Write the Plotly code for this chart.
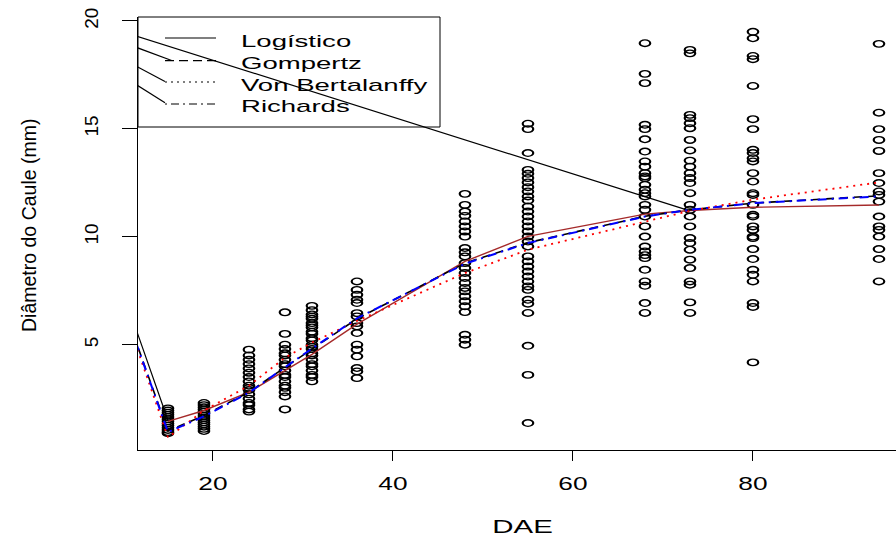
import plotly.graph_objects as go

# ---------------- data ----------------
dae_cols = [15, 19, 24, 28, 31, 36, 48, 55, 68, 73, 80, 94]

d15 = [2.05, 1.95, 1.85, 1.75, 1.65, 1.55, 1.45, 1.35, 1.25, 1.15, 1.05, 0.95, 0.9]
d19 = [2.3, 2.2, 2.1, 2.0, 1.9, 1.8, 1.7, 1.6, 1.5, 1.4, 1.3, 1.2, 1.1, 1.0]
d24 = [4.77, 4.5, 4.3, 4.1, 3.9, 3.7, 3.5, 3.3, 3.1, 3.0, 2.9, 2.7, 2.5, 2.3, 2.2, 2.0, 1.9]
d28 = [6.5, 5.5, 5.0, 4.8, 4.6, 4.5, 4.3, 4.1, 4.0, 3.8, 3.6, 3.5, 3.3, 3.1, 3.0, 2.8, 2.6, 2.0]
d31 = [6.8, 6.6, 6.4, 6.3, 6.2, 6.0, 5.9, 5.8, 5.6, 5.5, 5.3, 5.2, 5.0, 4.9, 4.8, 4.6,
       4.5, 4.3, 4.1, 4.0, 3.8, 3.6, 3.5, 3.3]
d36 = [7.93, 7.54, 7.31, 7.08, 6.93, 6.46, 6.31, 6.0, 5.85, 5.54, 5.0, 4.77, 4.46,
       3.92, 3.76, 3.45]
d48 = [11.99, 11.48, 11.17, 10.97, 10.71, 10.48, 10.25, 10.01, 9.48, 9.28, 9.09, 8.78,
       8.55, 8.32, 8.09, 7.86, 7.63, 7.47, 7.24, 7.01, 6.78, 6.51, 5.46, 5.23, 5.0]
d55 = [15.24, 14.99, 13.88, 13.1, 12.92, 12.72, 12.52, 12.3, 12.1, 11.87, 11.68, 11.4,
       11.17, 10.94, 10.71, 10.48, 10.25, 10.01, 9.78, 9.55, 9.09, 8.86, 8.62, 8.39,
       8.16, 7.93, 7.7, 7.54, 7.08, 6.9, 6.47, 4.95, 3.6, 1.37]
d68 = [18.97, 17.55, 17.12, 15.19, 14.99, 14.52, 13.95, 13.49, 13.25, 12.95, 12.8,
       12.72, 12.41, 12.18, 12.02, 11.87, 11.48, 11.25, 10.94, 10.48, 10.01, 9.55, 9.32,
       9.15, 9.01, 8.47, 7.93, 7.73, 6.93, 6.47]
d73 = [18.66, 18.5, 15.65, 15.5, 15.26, 15.03, 14.49, 14.0, 13.53, 13.25, 12.95, 12.72,
       12.49, 12.02, 11.48, 11.25, 10.94, 10.48, 9.94, 9.71, 9.4, 8.94, 8.55, 7.93,
       7.78, 6.96, 6.47]
d80 = [19.5, 19.2, 18.38, 18.23, 16.99, 15.45, 14.99, 14.03, 13.88, 13.64, 13.49, 12.95,
       12.56, 12.02, 11.94, 11.48, 11.02, 10.94, 10.48, 10.32, 10.01, 9.94, 9.43, 8.97,
       8.47, 8.24, 7.93, 6.93, 6.75, 4.18]
d94 = [18.94, 15.75, 14.99, 14.49, 13.98, 12.95, 12.49, 12.1, 11.94, 11.63, 10.94,
       10.48, 10.32, 10.01, 9.43, 8.97, 7.93]
obs_by_col = [d15, d19, d24, d28, d31, d36, d48, d55, d68, d73, d80, d94]

# fitted models evaluated at each DAE
fit_logistico = [1.45, 1.95, 2.8, 3.8, 4.55, 5.95, 8.86, 10.02, 11.05, 11.22, 11.37, 11.47]
fit_gompertz = [1.0, 1.72, 2.8, 3.95, 4.8, 6.2, 8.78, 9.73, 10.95, 11.25, 11.56, 11.9]
fit_vonbert = [0.7, 1.95, 3.1, 4.4, 5.1, 6.1, 8.32, 9.4, 10.7, 11.2, 11.72, 12.52]
fit_richards = [0.95, 1.68, 2.78, 3.95, 4.82, 6.22, 8.75, 9.71, 10.94, 11.25, 11.56, 11.87]

# stray segments in the original drawing (start off the left of the plot)
stray_x0 = -1.4
stray_black_x = [15, stray_x0, 73]
stray_black_y = [1.5, 21.0, 11.2]
stray_gompertz_y0 = 20.1
stray_vonbert_y0 = 20.4
stray_richards_y0 = 20.1
stray_leg_end_x = [15.41, 14.67, 14.67]
stray_leg_end_y = [18.17, 17.2, 16.21]
stray_leg_start_y = [20.77, 20.74, 20.44]

legend_labels = ["Logístico", "Gompertz", "Von Bertalanffy", "Richards"]
x_ticks = [20, 40, 60, 80]
y_ticks = [5, 10, 15, 20]

# ---------------- layout geometry ----------------
W, H = 896, 541
L, R, T, B = 138, 0, 17, 91
PW, PH = W - L - R, H - T - B
FONT = "Liberation Sans, Arial, sans-serif"


def px_x(px):
    return (px - L) / PW


def px_y(py):
    return 1 - (py - T) / PH


fig = go.Figure()

# observed points
xs, ys = [], []
for x, col in zip(dae_cols, obs_by_col):
    xs += [x] * len(col)
    ys += col
fig.add_trace(go.Scatter(x=xs, y=ys, mode="markers", showlegend=False,
                         marker=dict(symbol="circle-open", size=6.6, color="black",
                                     line=dict(width=1.35, color="black"))))

# stray black lines
fig.add_trace(go.Scatter(x=stray_black_x, y=stray_black_y, mode="lines", showlegend=False,
                         line=dict(color="black", width=1.2)))
for ex, ey, sy in zip(stray_leg_end_x, stray_leg_end_y, stray_leg_start_y):
    fig.add_trace(go.Scatter(x=[stray_x0, ex], y=[sy, ey], mode="lines", showlegend=False,
                             line=dict(color="black", width=1.2)))

# fitted curves
fig.add_trace(go.Scatter(x=dae_cols, y=fit_logistico, mode="lines", showlegend=False,
                         line=dict(color="#A52A2A", width=1.4)))
fig.add_trace(go.Scatter(x=[stray_x0] + dae_cols, y=[stray_gompertz_y0] + fit_gompertz,
                         mode="lines", showlegend=False,
                         line=dict(color="black", width=1.6, dash="8px,6px")))
fig.add_trace(go.Scatter(x=[stray_x0] + dae_cols, y=[stray_vonbert_y0] + fit_vonbert,
                         mode="lines", showlegend=False,
                         line=dict(color="red", width=1.8, dash="2px,5px")))
fig.add_trace(go.Scatter(x=[stray_x0] + dae_cols, y=[stray_richards_y0] + fit_richards,
                         mode="lines", showlegend=False,
                         line=dict(color="blue", width=2, dash="2px,5px,9px,5px")))

# legend box (drawn by hand to mimic base-R legend)
shapes = [dict(type="rect", xref="paper", yref="paper", x0=px_x(138), x1=px_x(440),
               y0=px_y(127), y1=1, line=dict(color="black", width=1))]
leg_line_y = [38, 60.7, 82, 104]
leg_text_y = [41.5, 63.5, 85.5, 107]
leg_dash = ["solid", "9px,5px", "2px,4px", "2px,4px,8px,4px"]
annotations = []
for lab, ly, ty, dsh in zip(legend_labels, leg_line_y, leg_text_y, leg_dash):
    shapes.append(dict(type="line", xref="paper", yref="paper", x0=px_x(165), x1=px_x(216),
                       y0=px_y(ly), y1=px_y(ly), line=dict(color="black", width=1.2, dash=dsh)))
    annotations.append(dict(text=lab, xref="paper", yref="paper", x=px_x(239), y=px_y(ty),
                            xanchor="left", yanchor="middle", showarrow=False,
                            font=dict(size=17, color="black", family=FONT)))

annotations.append(dict(text="DAE", xref="paper", yref="paper", x=px_x(522), y=px_y(526),
                        xanchor="center", yanchor="middle", showarrow=False,
                        font=dict(size=19, color="black", family=FONT)))
annotations.append(dict(text="Diâmetro do Caule (mm)", xref="paper", yref="paper",
                        x=px_x(29), y=px_y(226), xanchor="center", yanchor="middle",
                        textangle=-90, showarrow=False,
                        font=dict(size=19.5, color="black", family=FONT)))

fig.update_layout(
    width=W, height=H,
    margin=dict(l=L, r=R, t=T, b=B, pad=0),
    paper_bgcolor="white", plot_bgcolor="white",
    font=dict(family=FONT, color="black"),
    shapes=shapes, annotations=annotations, showlegend=False,
    xaxis=dict(range=[11.67, 11.67 + PW / 9.0], tickvals=x_ticks, showgrid=False,
               zeroline=False, showline=True, linecolor="black", linewidth=1,
               ticks="outside", ticklen=10, tickwidth=1, tickcolor="black",
               tickfont=dict(size=17.5, family=FONT), ticklabelstandoff=8),
    yaxis=dict(range=[0.12, 20.185], tickvals=y_ticks, showgrid=False, zeroline=False,
               showline=True, linecolor="black", linewidth=1, ticks="outside",
               ticklen=15, tickwidth=1, tickcolor="black", tickangle=-90,
               tickfont=dict(size=19, family=FONT), ticklabelstandoff=16),
)

# the reference raster is stretched horizontally; mimic it on text and markers
post = """
(function(){
  document.documentElement.style.margin = '0';
  document.body.style.margin = '0';
  document.body.style.padding = '0';
  function stretch(el, sx, mode){
    var bb = el.getBBox();
    var tl = el.transform.baseVal;
    var M = new DOMMatrix();
    if (tl.numberOfItems) { var m = tl.consolidate().matrix; M = new DOMMatrix([m.a,m.b,m.c,m.d,m.e,m.f]); }
    var lx = (mode === 'left') ? bb.x : bb.x + bb.width / 2;
    var p = new DOMPoint(lx, bb.y + bb.height / 2).matrixTransform(M);
    var S = new DOMMatrix().translate(p.x, 0).scale(sx, 1).translate(-p.x, 0).multiply(M);
    el.setAttribute('transform', 'matrix(' + [S.a,S.b,S.c,S.d,S.e,S.f].join(',') + ')');
  }
  var gd = document.getElementById('{plot_id}');
  gd.querySelectorAll('.xtick text').forEach(function(t){ stretch(t, 1.5, 'center'); });
  gd.querySelectorAll('text.annotation-text').forEach(function(t){
    var s = t.textContent;
    if (s.indexOf('Caule') >= 0) return;
    if (s === 'DAE') stretch(t, 1.55, 'center'); else stretch(t, 1.62, 'left');
  });
  gd.querySelectorAll('.scatterlayer path.point').forEach(function(p){
    var tr = p.getAttribute('transform') || '';
    p.setAttribute('transform', tr + ' scale(1.6,1)');
  });
})();
"""

fig.write_html("out.html", post_script=post, config={"displayModeBar": False})
